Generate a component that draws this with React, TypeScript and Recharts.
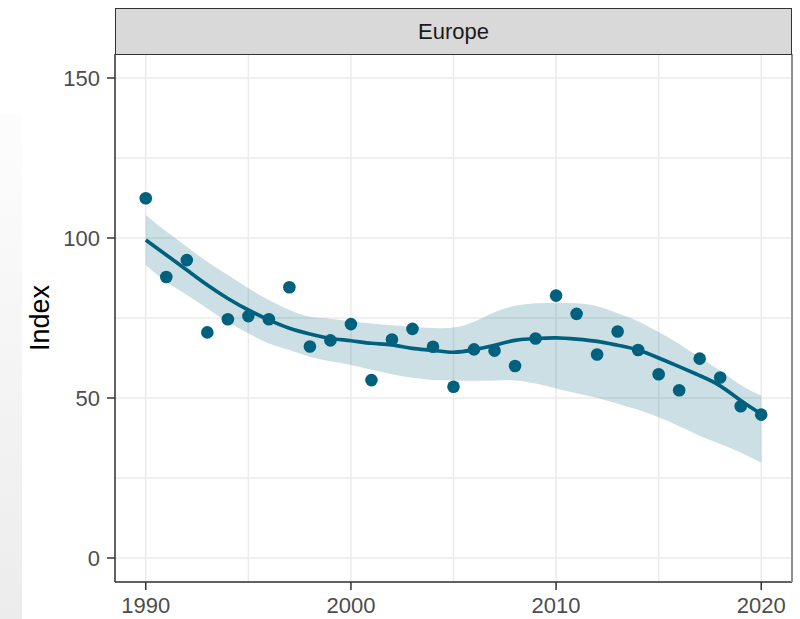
import React from 'react';
import { ComposedChart, Area, Line, Scatter, XAxis, YAxis, CartesianGrid } from 'recharts';

const years = [
  1990, 1991, 1992, 1993, 1994, 1995, 1996, 1997, 1998, 1999,
  2000, 2001, 2002, 2003, 2004, 2005, 2006, 2007, 2008, 2009,
  2010, 2011, 2012, 2013, 2014, 2015, 2016, 2017, 2018, 2019, 2020,
];
const observed = [
  112.4, 87.8, 93.1, 70.5, 74.6, 75.6, 74.6, 84.6, 66.1, 68.0,
  73.1, 55.6, 68.3, 71.6, 66.0, 53.5, 65.2, 64.8, 60.0, 68.6,
  82.0, 76.3, 63.6, 70.8, 65.0, 57.4, 52.4, 62.3, 56.4, 47.4, 44.8,
];
const fitted = [
  99.4, 94.7, 90.0, 85.3, 81.1, 77.5, 74.4, 71.8, 70.0, 68.6,
  67.9, 67.1, 66.6, 65.5, 64.9, 64.3, 65.1, 66.5, 68.0, 68.6,
  68.8, 68.4, 67.7, 66.5, 65.0, 62.5, 59.8, 57.0, 53.8, 49.2, 45.0,
];
const lower = [
  91.6, 86.3, 82.2, 78.0, 73.8, 70.2, 67.0, 65.0, 62.9, 61.5,
  60.3, 58.8, 57.4, 56.3, 55.6, 55.5, 55.4, 55.5, 55.5, 54.5,
  53.0, 51.5, 50.1, 48.2, 46.3, 44.0, 41.2, 38.2, 35.6, 33.0, 29.8,
];
const upper = [
  107.2, 102.0, 97.3, 92.6, 88.4, 84.3, 80.6, 77.5, 75.4, 74.8,
  74.0, 73.3, 72.7, 72.2, 71.9, 72.0, 73.8, 76.8, 78.8, 79.6,
  79.8, 79.6, 78.7, 76.5, 74.0, 70.6, 66.9, 62.7, 58.5, 54.1, 50.7,
];

const xTicks = [1990, 1995, 2000, 2005, 2010, 2015, 2020];
const xLabels = [1990, 2000, 2010, 2020];
const yTicks = [0, 25, 50, 75, 100, 125, 150];
const yLabels = [0, 50, 100, 150];

const facetLabel = 'Europe';
const yTitle = 'Index';

const data = years.map((year, i) => ({
  year,
  value: observed[i],
  fit: fitted[i],
  band: [lower[i], upper[i]],
}));

const TEAL = '#00617f';
const FONT = '"Liberation Sans", Arial, Helvetica, sans-serif';

const XTick = (props: any) => {
  const { x, y, payload } = props;
  if (!xLabels.includes(payload.value)) return <g />;
  return (
    <g>
      <line x1={x} x2={x} y1={y} y2={y + 8} stroke="#333333" strokeWidth={1.5} />
      <text x={x} y={y + 31} textAnchor="middle" fill="#4d4d4d" fontSize={22} fontFamily={FONT}>
        {payload.value}
      </text>
    </g>
  );
};

const YTick = (props: any) => {
  const { x, y, payload } = props;
  if (!yLabels.includes(payload.value)) return <g />;
  return (
    <g>
      <line x1={x - 8} x2={x} y1={y} y2={y} stroke="#333333" strokeWidth={1.5} />
      <text x={x - 15} y={y + 8} textAnchor="end" fill="#4d4d4d" fontSize={22} fontFamily={FONT}>
        {payload.value}
      </text>
    </g>
  );
};

const Dot = (props: any) => {
  const { cx, cy } = props;
  return <circle cx={cx} cy={cy} r={6.3} fill={TEAL} />;
};

export default function App() {
  return (
    <div
      style={{
        position: 'absolute',
        left: 0,
        top: 0,
        width: 800,
        height: 619,
        background: '#ffffff',
        fontFamily: FONT,
        overflow: 'hidden',
      }}
    >
      <div
        style={{
          position: 'absolute',
          left: 0,
          top: 113,
          width: 22,
          height: 506,
          background: 'linear-gradient(to bottom, #fdfdfd, #ececec)',
        }}
      />
      <ComposedChart
        width={800}
        height={619}
        data={data}
        margin={{ top: 54, right: 8, bottom: 7, left: 55 }}
      >
        <CartesianGrid stroke="#ebebeb" strokeWidth={1.5} />
        <XAxis
          dataKey="year"
          type="number"
          domain={[1988.5, 2021.5]}
          ticks={xTicks}
          interval={0}
          allowDataOverflow
          height={30}
          tickSize={0}
          tickMargin={0}
          tickLine={false}
          axisLine={{ stroke: '#333333', strokeWidth: 1.5 }}
          tick={<XTick />}
        />
        <YAxis
          type="number"
          domain={[-7.5, 157.5]}
          ticks={yTicks}
          interval={0}
          allowDataOverflow
          width={60}
          tickSize={0}
          tickMargin={0}
          tickLine={false}
          axisLine={{ stroke: '#333333', strokeWidth: 1.5 }}
          tick={<YTick />}
        />
        <Area
          dataKey="band"
          type="natural"
          stroke="none"
          fill={TEAL}
          fillOpacity={0.2}
          isAnimationActive={false}
        />
        <Line
          dataKey="fit"
          type="natural"
          stroke={TEAL}
          strokeWidth={3.7}
          dot={false}
          activeDot={false}
          isAnimationActive={false}
        />
        <Scatter dataKey="value" fill={TEAL} shape={<Dot />} isAnimationActive={false} />
      </ComposedChart>
      <div
        style={{
          position: 'absolute',
          left: 791,
          top: 54,
          width: 1.5,
          height: 528,
          background: '#8f8f8f',
        }}
      />
      <div
        style={{
          position: 'absolute',
          left: 115,
          top: 8,
          width: 677,
          height: 47,
          boxSizing: 'border-box',
          background: '#d9d9d9',
          border: '1.5px solid #333333',
          display: 'flex',
          alignItems: 'center',
          justifyContent: 'center',
          fontSize: 22,
          color: '#1a1a1a',
        }}
      >
        {facetLabel}
      </div>
      <div
        style={{
          position: 'absolute',
          left: 40,
          top: 318,
          transform: 'translate(-50%, -50%) rotate(-90deg)',
          fontSize: 27,
          lineHeight: '27px',
          color: '#000000',
          whiteSpace: 'nowrap',
        }}
      >
        {yTitle}
      </div>
    </div>
  );
}
